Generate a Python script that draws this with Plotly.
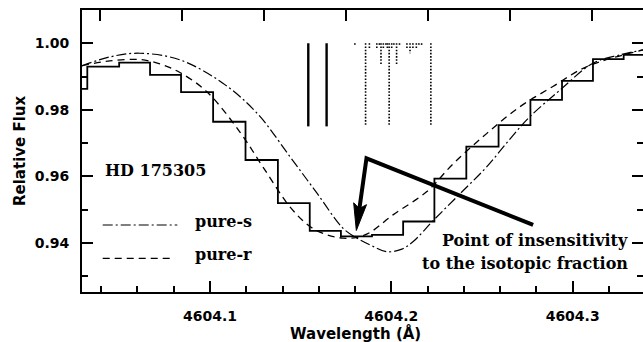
import math
import plotly.graph_objects as go

# ---------------------------------------------------------------
# Observed spectrum of HD 175305 (pixel centres in Angstrom, relative flux)
obs_wave = [4604.02343, 4604.04121, 4604.05858, 4604.07527, 4604.09278,
            4604.11065, 4604.12851, 4604.14636, 4604.16365, 4604.18074,
            4604.19792, 4604.21510, 4604.23239, 4604.25032, 4604.26797,
            4604.28545, 4604.30282, 4604.31958, 4604.33668, 4604.35410]
obs_flux = [0.9863, 0.9930, 0.9942, 0.9905, 0.9853,
            0.9764, 0.9649, 0.9519, 0.9436, 0.9419,
            0.9424, 0.9464, 0.9593, 0.9689, 0.9754,
            0.9830, 0.9887, 0.9952, 0.9965, 0.9970]

# Synthetic spectrum, pure s-process isotopic mix
s_wave = [4604.0294, 4604.0448, 4604.0613, 4604.0834, 4604.1071, 4604.1259,
          4604.1441, 4604.1590, 4604.1733, 4604.1810, 4604.1893, 4604.1976,
          4604.2058, 4604.2119, 4604.2235, 4604.2378, 4604.2527, 4604.2654,
          4604.2764, 4604.2930, 4604.3112, 4604.3261, 4604.3388]
s_flux = [0.9932, 0.9959, 0.9970, 0.9950, 0.9880, 0.9790,
          0.9659, 0.9549, 0.9444, 0.9414, 0.9391, 0.9373,
          0.9381, 0.9403, 0.9469, 0.9547, 0.9629, 0.9712,
          0.9779, 0.9859, 0.9940, 0.9965, 0.9980]

# Synthetic spectrum, pure r-process isotopic mix
r_wave = [4604.0294, 4604.0448, 4604.0613, 4604.0724, 4604.0834, 4604.0983,
          4604.1165, 4604.1292, 4604.1441, 4604.1551, 4604.1645, 4604.1733,
          4604.1810, 4604.1882, 4604.2009, 4604.2196, 4604.2340, 4604.2527,
          4604.2709, 4604.2891, 4604.3079, 4604.3388]
r_flux = [0.9933, 0.9947, 0.9951, 0.9938, 0.9912, 0.9854,
          0.9733, 0.9628, 0.9508, 0.9449, 0.9424, 0.9414,
          0.9416, 0.9431, 0.9484, 0.9554, 0.9637, 0.9729,
          0.9809, 0.9870, 0.9930, 0.9980]

# Line list: two main features (solid) and hyperfine / isotopic components (dotted)
solid_wave = [4604.1542, 4604.1643]
solid_end = [0.9750, 0.9750]
dotted_wave = [4604.1799, 4604.1858, 4604.1879, 4604.1920, 4604.1934, 4604.1943,
               4604.1956, 4604.1970, 4604.1978, 4604.1988, 4604.2002, 4604.2014,
               4604.2029, 4604.2045, 4604.2086, 4604.2103, 4604.2119, 4604.2138,
               4604.2152, 4604.2167, 4604.2218]
dotted_end = [0.9995, 0.9754, 0.9984, 0.9984, 0.9995, 0.9937,
              0.9984, 0.9995, 0.9984, 0.9754, 0.9984, 0.9995,
              0.9937, 0.9995, 0.9984, 0.9970, 0.9984, 0.9984,
              0.9995, 0.9995, 0.9754]
LINE_TOP = 1.0

# Secondary tick marks along the upper axis
top_ticks = [4604.0393, 4604.0845, 4604.1297, 4604.1750, 4604.2202,
             4604.2654, 4604.3106]

X_RANGE = [4604.0294, 4604.3388]
Y_RANGE = [0.9252, 1.0100]

# Arrow marking where the two synthetic profiles cross
ARROW_TAIL = (4604.2782, 0.9454)
ARROW_ELBOW = (4604.1863, 0.9654)
ARROW_TIP = (4604.1807, 0.9437)

FIG_W, FIG_H = 643, 342
MARGIN = dict(l=82, r=0, t=10, b=50)
PLOT_W = FIG_W - MARGIN["l"] - MARGIN["r"]
PLOT_H = FIG_H - MARGIN["t"] - MARGIN["b"]

AXIS_FONT = dict(family="DejaVu Sans", size=14, color="black", weight="bold")
TITLE_FONT = dict(family="DejaVu Sans", size=15, color="black", weight="bold")
LABEL_FONT = dict(family="DejaVu Serif", size=16, color="black", weight="bold")


def segments(xs, y_top, y_ends):
    """Vertical segments joined into one trace, separated by gaps."""
    sx, sy = [], []
    for x, ye in zip(xs, y_ends):
        sx += [x, x, None]
        sy += [y_top, ye, None]
    return sx, sy


fig = go.Figure()

# synthetic profiles
fig.add_trace(go.Scatter(x=s_wave, y=s_flux, mode="lines", line_shape="spline",
                         line=dict(color="black", width=1.2, dash="10px,3px,2px,3px"),
                         hoverinfo="skip", showlegend=False))
fig.add_trace(go.Scatter(x=r_wave, y=r_flux, mode="lines", line_shape="spline",
                         line=dict(color="black", width=1.3, dash="7px,5px"),
                         hoverinfo="skip", showlegend=False))

# observed spectrum as a histogram
fig.add_trace(go.Scatter(x=obs_wave, y=obs_flux, mode="lines", line_shape="hvh",
                         line=dict(color="black", width=1.8),
                         hoverinfo="skip", showlegend=False))

# line positions
sx, sy = segments(solid_wave, LINE_TOP, solid_end)
fig.add_trace(go.Scatter(x=sx, y=sy, mode="lines",
                         line=dict(color="black", width=2.4),
                         hoverinfo="skip", showlegend=False))
dx, dy = segments(dotted_wave, LINE_TOP, dotted_end)
fig.add_trace(go.Scatter(x=dx, y=dy, mode="lines",
                         line=dict(color="black", width=1.6, dash="1.6px,1.6px"),
                         hoverinfo="skip", showlegend=False))

# arrow: convert to pixel space to build a slender head
kx = PLOT_W / (X_RANGE[1] - X_RANGE[0])
ky = PLOT_H / (Y_RANGE[1] - Y_RANGE[0])


def to_px(p):
    return ((p[0] - X_RANGE[0]) * kx, (Y_RANGE[1] - p[1]) * ky)


def to_data(q):
    return (X_RANGE[0] + q[0] / kx, Y_RANGE[1] - q[1] / ky)


e_px, t_px = to_px(ARROW_ELBOW), to_px(ARROW_TIP)
vx, vy = t_px[0] - e_px[0], t_px[1] - e_px[1]
norm = math.hypot(vx, vy)
ux, uy = vx / norm, vy / norm
nx, ny = -uy, ux
HEAD_LEN, HEAD_HALF = 27.0, 6.5
base = (t_px[0] - ux * HEAD_LEN, t_px[1] - uy * HEAD_LEN)
notch = (t_px[0] - ux * HEAD_LEN * 0.82, t_px[1] - uy * HEAD_LEN * 0.82)
left = (base[0] + nx * HEAD_HALF, base[1] + ny * HEAD_HALF)
right = (base[0] - nx * HEAD_HALF, base[1] - ny * HEAD_HALF)
head = [to_data(p) for p in (t_px, left, notch, right)]
notch_d = to_data(notch)

fig.add_trace(go.Scatter(x=[ARROW_TAIL[0], ARROW_ELBOW[0], notch_d[0]],
                         y=[ARROW_TAIL[1], ARROW_ELBOW[1], notch_d[1]],
                         mode="lines", line=dict(color="black", width=4),
                         hoverinfo="skip", showlegend=False))
path = "M " + " L ".join(f"{x:.6f},{y:.6f}" for x, y in head) + " Z"
fig.add_shape(type="path", path=path, xref="x", yref="y",
              fillcolor="black", line=dict(color="black", width=1))

# bind the secondary axes (upper and right tick marks)
fig.add_trace(go.Scatter(x=[], y=[], xaxis="x2", yaxis="y2", showlegend=False,
                         hoverinfo="skip"))


def px_to_paper(px, py):
    return ((px - MARGIN["l"]) / PLOT_W, (FIG_H - MARGIN["b"] - py) / PLOT_H)


# legend samples
for (x0, x1, yy), dash, wid in [((102.7, 177.3, 225.0), "10px,3px,2px,3px", 1.2),
                                ((102.7, 173.3, 258.3), "7px,5px", 1.3)]:
    p0 = px_to_paper(x0, yy)
    p1 = px_to_paper(x1, yy)
    fig.add_shape(type="line", xref="paper", yref="paper",
                  x0=p0[0], x1=p1[0], y0=p0[1], y1=p1[1],
                  line=dict(color="black", width=wid, dash=dash))

annotations = [
    ("HD 175305", 102.7, 170.7, "left", LABEL_FONT, 0),
    ("pure-s", 192.7, 221.0, "left", LABEL_FONT, 0),
    ("pure-r", 192.7, 254.5, "left", LABEL_FONT, 0),
    ("Point of insensitivity", 630.0, 240.0, "right", LABEL_FONT, 0),
    ("to the isotopic fraction", 630.0, 263.0, "right", LABEL_FONT, 0),
    ("Wavelength (Å)", 355.0, 333.0, "center", TITLE_FONT, 0),
    ("Relative Flux", 20.0, 151.0, "center", TITLE_FONT, -90),
]
for text, px, py, anchor, font, angle in annotations:
    ax_, ay_ = px_to_paper(px, py)
    fig.add_annotation(text=text, x=ax_, y=ay_, xref="paper", yref="paper",
                       xanchor=anchor, yanchor="middle", showarrow=False,
                       font=font, textangle=angle)

common = dict(showgrid=False, zeroline=False, ticks="inside", ticklen=11,
              tickwidth=1.5, tickcolor="black")

fig.update_layout(
    width=FIG_W, height=FIG_H, margin=MARGIN,
    paper_bgcolor="white", plot_bgcolor="white",
    xaxis=dict(range=X_RANGE, showline=True, linewidth=2, linecolor="black",
               mirror=True, tick0=4604.0, dtick=0.1, tickformat=".1f",
               minor=dict(ticks="inside", ticklen=6, tickwidth=1.5,
                          tickcolor="black", tick0=4604.0, dtick=0.02),
               tickfont=AXIS_FONT, ticklabelstandoff=10, **common),
    xaxis2=dict(range=X_RANGE, overlaying="x", side="top", anchor="y",
                tickmode="array", tickvals=top_ticks, showticklabels=False,
                showline=False, **common),
    yaxis=dict(range=Y_RANGE, showline=True, linewidth=2, linecolor="black",
               mirror=False, tick0=0.0, dtick=0.02, tickformat=".2f",
               minor=dict(ticks="inside", ticklen=6, tickwidth=1.5,
                          tickcolor="black", tick0=0.0, dtick=0.01),
               tickfont=AXIS_FONT, ticklabelstandoff=8, **common),
    yaxis2=dict(range=Y_RANGE, overlaying="y", side="right", anchor="x",
                tick0=0.0, dtick=0.02, showticklabels=False, showline=False,
                minor=dict(ticks="inside", ticklen=6, tickwidth=1.5,
                           tickcolor="black", tick0=0.0, dtick=0.01),
                **common),
)

fig.write_html("out.html")
